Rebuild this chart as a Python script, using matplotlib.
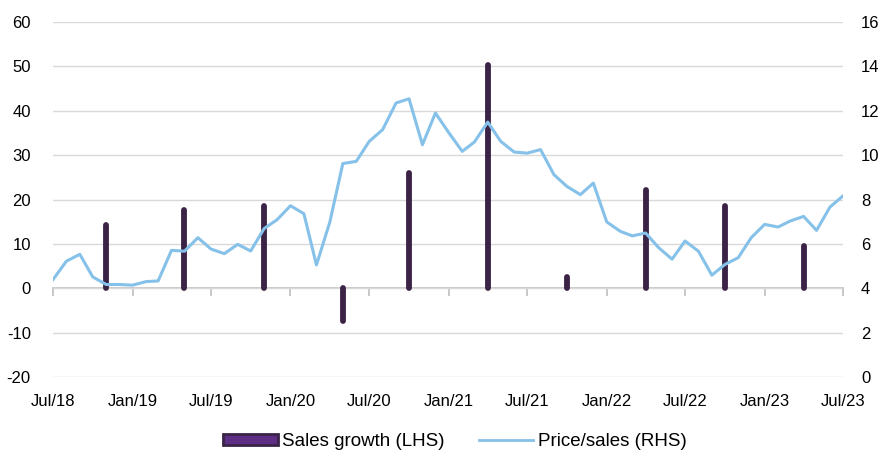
import numpy as np
import pandas as pd
import matplotlib
matplotlib.use("Agg")
import matplotlib.pyplot as plt
from matplotlib.patches import Patch
from matplotlib.lines import Line2D

# monthly price/sales (RHS), Jul/18 .. Jul/23
months = pd.date_range("2018-07-01", "2023-07-01", freq="MS")
price_sales = [4.39, 5.22, 5.53, 4.51, 4.17, 4.17, 4.14, 4.30, 4.33, 5.71,
               5.67, 6.28, 5.77, 5.56, 5.98, 5.68, 6.69, 7.09, 7.72, 7.36,
               5.05, 6.99, 9.62, 9.72, 10.62, 11.15, 12.35, 12.54, 10.47, 11.90,
               11.01, 10.17, 10.59, 11.49, 10.62, 10.14, 10.09, 10.25, 9.12, 8.59,
               8.22, 8.74, 6.99, 6.57, 6.36, 6.49, 5.83, 5.31, 6.13, 5.67,
               4.59, 5.07, 5.38, 6.28, 6.88, 6.76, 7.03, 7.24, 6.61, 7.66,
               8.16]

# half-yearly sales growth (LHS)
growth_dates = pd.to_datetime(["2018-11-01", "2019-05-01", "2019-11-01", "2020-05-01",
                               "2020-10-01", "2021-04-01", "2021-10-01", "2022-04-01",
                               "2022-10-01", "2023-04-01"])
sales_growth = [14.3, 17.6, 18.6, -7.3, 26.0, 50.4, 2.6, 22.2, 18.5, 9.5]

tick_dates = pd.date_range("2018-07-01", "2023-07-01", freq="6MS")
tick_labels = [d.strftime("%b/%y") for d in tick_dates]

bar_col = "#3b2346"
line_col = "#85c1e9"
grid_col = "#d9d9d9"
axis_col = "#bfbfbf"

plt.rcParams["font.family"] = ["Liberation Sans", "DejaVu Sans"]
plt.rcParams["font.size"] = 12
plt.rcParams["axes.unicode_minus"] = False

fig = plt.figure(figsize=(8.92, 4.55), dpi=100)
ax = fig.add_axes([0.0594, 0.1714, 0.8856, 0.7802])
ax2 = ax.twinx()

ax.vlines(growth_dates, 0, sales_growth, color=bar_col, linewidth=4.2,
          capstyle="round", zorder=3)
ax2.plot(months, price_sales, color=line_col, linewidth=2.2, zorder=4)

ax.set_ylim(-20, 60)
ax.set_yticks(np.arange(-20, 61, 10))
ax2.set_ylim(0, 16)
ax2.set_yticks(np.arange(0, 17, 2))
ax.set_xlim(months[0], months[-1])

ax.set_xticks(tick_dates)
ax.set_xticklabels(tick_labels)
ax.grid(axis="y", color=grid_col, linewidth=1)
ax.set_axisbelow(True)

for a in (ax, ax2):
    for s in a.spines.values():
        s.set_visible(False)
    a.tick_params(axis="y", length=0, colors="black")
ax.tick_params(axis="x", length=0, pad=12)
ax.tick_params(axis="y", pad=16)
ax2.tick_params(axis="y", pad=13)

# zero line with tick marks
zero_ax = ax.secondary_xaxis(0.25)
zero_ax.set_xticks(tick_dates)
zero_ax.set_xticklabels([])
zero_ax.spines["bottom"].set_color(axis_col)
zero_ax.spines["bottom"].set_linewidth(1.2)
zero_ax.tick_params(axis="x", direction="out", length=6, color=axis_col, width=1.2)

handles = [Patch(facecolor="#5e2d86", edgecolor=bar_col, linewidth=2),
           Line2D([0], [0], color=line_col, linewidth=2)]
fig.legend(handles, ["Sales growth (LHS)", "Price/sales (RHS)"], loc="center",
           bbox_to_anchor=(0.51, 0.03), ncol=2, frameon=False, fontsize=13.5,
           handlelength=2.9, handleheight=0.55, handletextpad=0.25, columnspacing=1.8)

fig.savefig("out.png", dpi=100)
